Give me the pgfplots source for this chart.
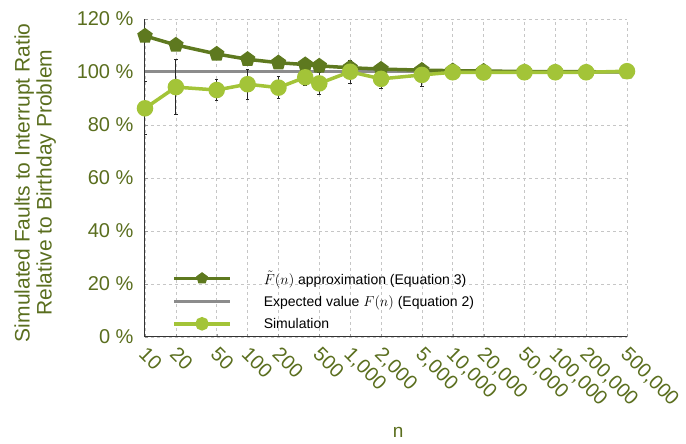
\documentclass[border=0pt]{standalone}
\usepackage{pgfplots}
\pgfplotsset{compat=1.18}
\usepackage{fontspec}
\setmainfont{Liberation Sans}
\definecolor{darkol}{RGB}{94,121,31}
\definecolor{lightol}{RGB}{163,196,56}
\definecolor{txtol}{RGB}{90,110,30}
\definecolor{refgray}{RGB}{140,140,140}
\begin{document}
\begin{tikzpicture}
\begin{axis}[
  scale only axis, width=482pt, height=318pt,
  xmode=log, xmin=10, xmax=500000,
  ymin=0, ymax=120,
  xtick={10,20,50,100,200,500,1000,2000,5000,10000,20000,50000,100000,200000,500000},
  xticklabels={10,20,50,100,200,500,{1,000},{2,000},{5,000},{10,000},{20,000},{50,000},{100,000},{200,000},{500,000}},
  ytick={0,20,40,60,80,100,120},
  yticklabels={0 \%,20 \%,40 \%,60 \%,80 \%,100 \%,120 \%},
  minor xtick={},
  xticklabel style={rotate=-45, anchor=north west, font=\fontsize{20}{22}\selectfont, text=txtol, inner sep=1pt, xshift=7pt, yshift=-3pt},
  yticklabel style={font=\fontsize{20}{22}\selectfont, text=txtol, xshift=-8pt},
  axis x line*=bottom, axis y line*=left,
  axis line style={black!80, line width=1pt},
  x axis line style={-}, y axis line style={-},
  tick style={black!40},
  major tick length=3pt,
  grid=major,
  major grid style={dashed, gray!45, line width=0.5pt},
  xlabel={n},
  xlabel style={at={(axis description cs:0.525,-0.3)}, anchor=center, inner sep=0pt, font=\fontsize{19}{21}\selectfont, text=txtol},
  ylabel={Simulated Faults to Interrupt Ratio\\Relative to Birthday Problem},
  ylabel style={at={(axis description cs:-0.228,0.485)}, anchor=center, align=center, font=\fontsize{21}{22}\selectfont, text=txtol},
  legend style={at={(axis description cs:0.05,0.01)}, anchor=south west, draw=none, fill=none, font=\fontsize{14}{16}\selectfont, row sep=6pt},
  legend cell align=left,
  legend image code/.code={\draw[mark repeat=2,mark phase=2,#1] plot coordinates {(0pt,0pt) (28pt,0pt) (56pt,0pt)}; \path (86pt,0pt);},
]
\coordinate (ll) at (rel axis cs:0,0);
\coordinate (ur) at (rel axis cs:1,1);
\addlegendimage{darkol, line width=3.5pt, mark=pentagon*, mark size=4pt, mark options={solid}}
\addlegendentry{$\tilde{F}(n)$ approximation (Equation 3)}
\addlegendimage{refgray, line width=3pt}
\addlegendentry{Expected value $F(n)$ (Equation 2)}
\addlegendimage{lightol, line width=3.5pt, mark=*, mark size=5pt}
\addlegendentry{Simulation}

\addplot[refgray, line width=3pt, forget plot] coordinates {(10,100) (500000,100)};

\addplot[darkol, line width=3.5pt, mark=pentagon*, mark size=6pt, forget plot] coordinates {
(10,113.6) (20,110.2) (50,106.8) (100,104.8) (200,103.5) (365,102.8) (500,102.3) (1000,101.6)
(2000,101.1) (5000,100.7) (10000,100.5) (20000,100.35) (50000,100.2) (100000,100.15) (200000,100.1) (500000,100.07)};

\addplot[lightol, line width=3.5pt, mark=*, mark size=6.5pt, forget plot] coordinates {
(10,86.3) (20,94.3) (50,93.2) (100,95.4) (200,94.1) (365,98.0) (500,95.7) (1000,100.1)
(2000,97.4) (5000,98.9) (10000,99.9) (20000,99.8) (50000,99.9) (100000,99.9) (200000,99.9) (500000,100.3)};

\addplot[draw=none, mark=none, forget plot,
  error bars/.cd, y dir=both, y explicit,
  error bar style={black!85, line width=1pt},
  error mark options={black!85, line width=1pt, mark size=1.8pt, rotate=90}]
 coordinates {
(10,86.3) +- (0,10) (20,94.3) +- (0,10.4) (50,93.2) +- (0,4.1) (100,95.4) +- (0,5.6) (200,94.1) +- (0,4.2)
(365,98.0) +- (0,3.0) (500,95.7) +- (0,4.2) (1000,100.1) +- (0,4.3)
(2000,97.4) +- (0,3.8) (5000,98.9) +- (0,4.2) (10000,99.9) +- (0,2.2) (20000,99.8) +- (0,1.5)
(50000,99.9) +- (0,1.1) (100000,99.9) +- (0,0.9) (200000,99.9) +- (0,1.0) (500000,100.3) +- (0,1.2)};
\end{axis}
\pgfresetboundingbox
\useasboundingbox ([xshift=-145pt,yshift=-107pt]ll) rectangle ([xshift=59pt,yshift=19pt]ur);
\end{tikzpicture}
\end{document}
